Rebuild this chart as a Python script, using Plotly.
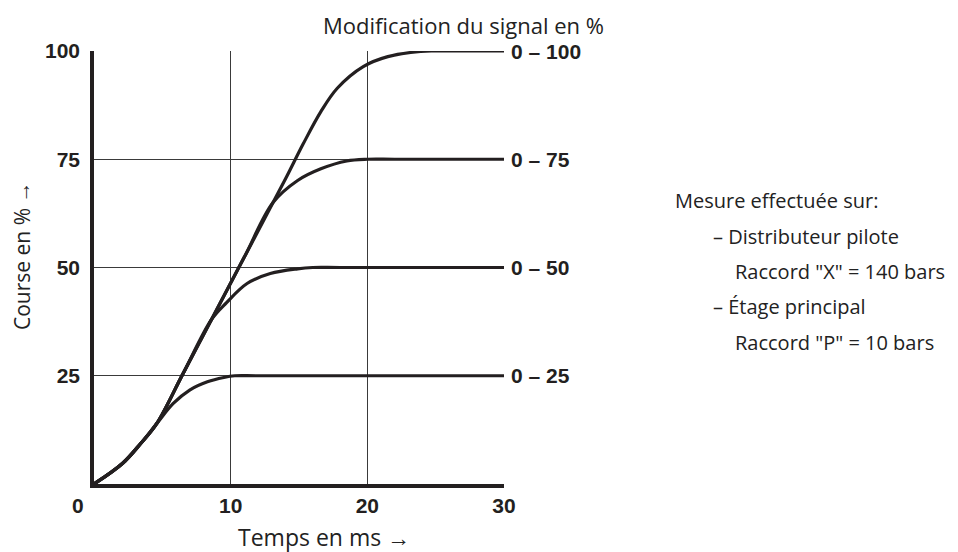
import plotly.graph_objects as go

# Hubkurven (Temps en ms / Course en %)
t_25 = [0, 2.1, 3.4, 4.6, 5.8, 7.0, 8.3, 9.5, 10.3, 12, 30]
v_25 = [0, 4.8, 9.3, 14, 18.6, 21.7, 23.6, 24.6, 25, 25, 25]

t_50 = [0, 2.1, 3.4, 4.6, 6.5, 8.6, 9.7, 11.2, 12.9, 14.9, 16, 18, 30]
v_50 = [0, 4.8, 9.3, 14, 25.4, 38, 41.9, 46.3, 48.6, 49.7, 50, 50, 50]

t_75 = [0, 2.1, 3.4, 4.6, 6.5, 8.6, 11, 13.1, 14.9, 16.6, 18.5, 20, 22, 30]
v_75 = [0, 4.8, 9.3, 14, 25.4, 38, 52.4, 65, 70.1, 72.8, 74.6, 75, 75, 75]

t_100 = [0, 2.1, 3.4, 4.6, 6.5, 8.6, 11, 13.1, 14.1, 15.3, 16.6, 17.8, 19.7, 21.5, 23.9, 25, 27, 30]
v_100 = [0, 4.8, 9.3, 14, 25.4, 38, 52.4, 65, 71, 78.5, 86, 91.4, 96.4, 98.7, 99.9, 100, 100, 100]

curves = [(t_25, v_25), (t_50, v_50), (t_75, v_75), (t_100, v_100)]
right_labels = ["0 – 25", "0 – 50", "0 – 75", "0 – 100"]
end_values = [25, 50, 75, 100]

x_ticks = [10, 20, 30]
y_ticks = [25, 50, 75, 100]

note_lines = ["Mesure effectuée sur:", "– Distributeur pilote", 'Raccord "X" = 140 bars',
              "– Étage principal", 'Raccord "P" = 10 bars']

ink = "#231f20"
bold_font = dict(family="Liberation Sans Narrow, Liberation Sans, Arial", size=21, color=ink, weight="bold")
text_font = dict(family="Open Sans, Noto Sans", size=23, color="#222")

# plot area in page pixels (body has an 8px margin)
L, R, T, B = 94, 504, 51, 484
PW, PH = R - L, B - T


def px(x):
    return (x - L) / PW


def py(y):
    return (B - y) / PH


fig = go.Figure()
for t, v in curves:
    fig.add_trace(go.Scatter(x=t, y=v, mode="lines", cliponaxis=False,
                             line=dict(color=ink, width=3.2, shape="spline", smoothing=1.0),
                             hoverinfo="skip"))

fig.update_xaxes(range=[0, 30], tickvals=x_ticks, ticktext=[str(x) for x in x_ticks],
                 showgrid=True, gridcolor="#3a3a3a", gridwidth=1, zeroline=False,
                 showline=True, linecolor=ink, linewidth=3.5,
                 ticks="", tickfont=bold_font)
fig.update_yaxes(range=[0, 100], tickvals=y_ticks, ticktext=[str(y) for y in y_ticks],
                 showgrid=True, gridcolor="#3a3a3a", gridwidth=1, zeroline=False,
                 showline=True, linecolor=ink, linewidth=3.5,
                 ticks="outside", ticklen=6, tickcolor="rgba(0,0,0,0)",
                 tickfont=bold_font)

# origin label
fig.add_annotation(x=0, y=0, xref="x", yref="y", text="0", showarrow=False,
                   xanchor="center", yanchor="middle",
                   xshift=-16, yshift=-21, font=bold_font)

for lab, val in zip(right_labels, end_values):
    fig.add_annotation(x=30, y=val, xref="x", yref="y", text=lab, showarrow=False,
                       xanchor="left", yanchor="middle", xshift=5, font=bold_font)

fig.add_annotation(x=px(463), y=py(25), xref="paper", yref="paper",
                   text="Modification du signal en %", showarrow=False, borderpad=0,
                   xanchor="center", yanchor="middle",
                   font=dict(family="Open Sans, Noto Sans", size=22, color="#222"))
fig.add_annotation(x=px(324), y=py(537), xref="paper", yref="paper",
                   text="Temps en ms →", showarrow=False,
                   xanchor="center", yanchor="middle", font=text_font)
fig.add_annotation(x=px(22), y=py(256), xref="paper", yref="paper",
                   text="Course en % →", showarrow=False, textangle=-90, borderpad=0,
                   xanchor="center", yanchor="middle",
                   font=dict(family="Open Sans, Noto Sans", size=21, color="#222"))

note_x = [673, 711, 733, 711, 733]
note_y = [200, 236, 271, 306, 342]
for txt, nx, ny in zip(note_lines, note_x, note_y):
    fig.add_annotation(x=px(nx), y=py(ny), xref="paper", yref="paper", text=txt,
                       showarrow=False, xanchor="left", yanchor="middle",
                       font=dict(family="Open Sans, Noto Sans", size=20, color="#222"))

fig.update_layout(width=950, height=544, showlegend=False,
                  margin=dict(l=L - 8, r=958 - R, t=T - 8, b=552 - B),
                  plot_bgcolor="white", paper_bgcolor="white")

fig.write_html("out.html")
